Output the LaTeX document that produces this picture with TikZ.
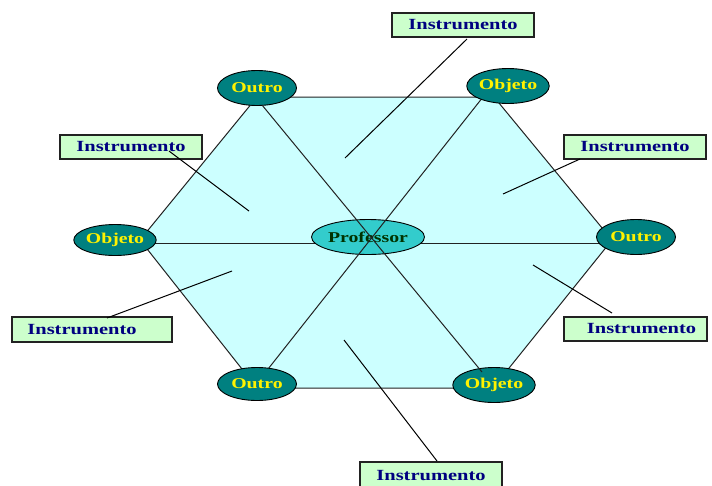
\documentclass[tikz,border=0pt]{standalone}
\usepackage{fontspec}
\setmainfont{Liberation Serif}
\usetikzlibrary{shapes.geometric}
\definecolor{hexfill}{HTML}{CCFFFF}
\definecolor{ellfill}{HTML}{008080}
\definecolor{proffill}{HTML}{33CCCC}
\definecolor{proftext}{HTML}{003300}
\definecolor{boxfill}{HTML}{CCFFCC}
\definecolor{boxtext}{HTML}{000080}
\definecolor{edgecol}{HTML}{222222}
\newcommand{\widetxt}[1]{\scalebox{1.32}[1]{#1}}
\tikzset{
  vert/.style={ellipse, draw=black, line width=0.9pt, fill=ellfill, inner sep=0pt,
    minimum width=79pt, minimum height=35pt, text=yellow,
    font=\fontsize{15}{16}\selectfont\bfseries},
  profnode/.style={ellipse, draw=black, line width=0.9pt, fill=proffill, inner sep=0pt,
    minimum width=113pt, minimum height=35pt, text=proftext,
    font=\fontsize{15}{16}\selectfont\bfseries},
  labelbox/.style={rectangle, draw=edgecol, line width=1.3pt, fill=boxfill, inner sep=0pt,
    minimum width=142pt, minimum height=24pt, text=boxtext,
    font=\fontsize{15.5}{16}\selectfont\bfseries},
  edge/.style={draw=edgecol, line width=1pt},
  leader/.style={draw=black, line width=1pt}
}
\begin{document}
\begin{tikzpicture}[x=1pt,y=-1pt]
\clip (0,0) rectangle (712,485);
\fill[white] (0,0) rectangle (712,485);
% hexagon
\coordinate (h1) at (257,97);
\coordinate (h2) at (494,97);
\coordinate (h3) at (612,240);
\coordinate (h4) at (493,388);
\coordinate (h5) at (257,388);
\coordinate (h6) at (140,240);
\filldraw[fill=hexfill, edge] (h1) -- (h2) -- (h3) -- (h4) -- (h5) -- (h6) -- cycle;
% horizontal line (behind centre)
\coordinate (hl) at (140,243);
\coordinate (hr) at (612,243);
\draw[edge] (hl) -- (hr);
% centre
\node[profnode] (prof) at (368,237) {\widetxt{Professor}};
% diagonals
\coordinate (d1a) at (483,97);
\coordinate (d1b) at (257,383);
\coordinate (d2a) at (262,105);
\coordinate (d2b) at (482,372);
\draw[edge] (d1a) -- (d1b);
% ellipse nodes
\node[vert] (tl) at (257,88) {\widetxt{Outro}};
\node[vert] (tr) at (508,86) {\widetxt{Objeto}};
\node[vert, minimum height=31pt] (l) at (115,240) {\widetxt{Objeto}};
\node[vert] (r) at (636,237) {\widetxt{Outro}};
\node[vert, minimum height=33pt] (bl) at (257,384) {\widetxt{Outro}};
\node[vert] (br) at (494,385) {\widetxt{Objeto}};
\draw[edge] (d2a) -- (d2b);
% label boxes
\node[labelbox] (bt) at (463,25) {\widetxt{Instrumento}};
\node[labelbox] (blu) at (131,147) {\widetxt{Instrumento}};
\node[labelbox] (bru) at (635,147) {\widetxt{Instrumento}};
\node[labelbox, minimum width=143pt] (brl) at (635.5,329) {\hspace*{12pt}\widetxt{Instrumento}};
\node[labelbox, minimum width=160pt, minimum height=25pt] (bll) at (92,329.5) {\widetxt{Instrumento}\hspace*{20pt}};
\node[labelbox, minimum height=30pt] (bb) at (431,477) {\raisebox{3pt}{\widetxt{Instrumento}}};
% leaders
\coordinate (lt1) at (467,39);   \coordinate (lt2) at (345,158);
\coordinate (llu1) at (169,151); \coordinate (llu2) at (249,211);
\coordinate (lru1) at (580,159); \coordinate (lru2) at (503,194);
\coordinate (lrl1) at (612,313); \coordinate (lrl2) at (533,265);
\coordinate (lll1) at (107,318); \coordinate (lll2) at (232,271);
\coordinate (lb1) at (437,461);  \coordinate (lb2) at (344,340);
\draw[leader] (lt1) -- (lt2);
\draw[leader] (llu1) -- (llu2);
\draw[leader] (lru1) -- (lru2);
\draw[leader] (lrl1) -- (lrl2);
\draw[leader] (lll1) -- (lll2);
\draw[leader] (lb1) -- (lb2);
\end{tikzpicture}
\end{document}
